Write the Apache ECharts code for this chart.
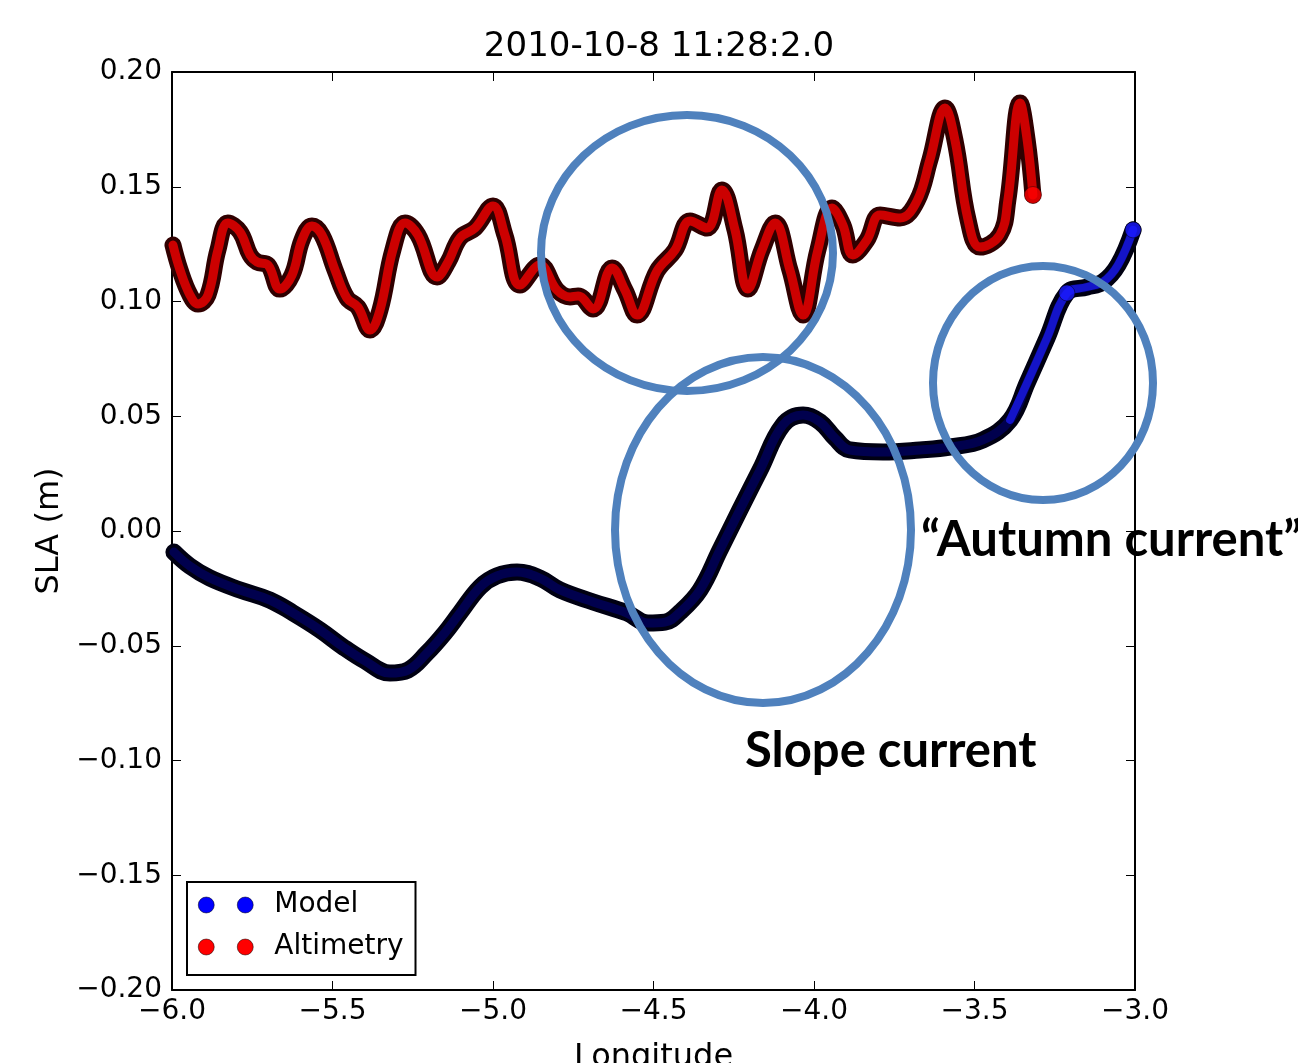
<!DOCTYPE html>
<html>
<head>
<meta charset="utf-8">
<title>SLA 2010-10-8</title>
<script src="https://cdn.jsdelivr.net/npm/echarts@6/dist/echarts.min.js"></script>
<style>
  html, body { margin: 0; padding: 0; background: #fff; }
  #chart { width: 1298px; height: 1063px; }
</style>
</head>
<body>
<div id="chart"></div>
<script>
var titleText = '2010-10-8 11:28:2.0';

// altimetry track (red), longitude / SLA in m
var altLon = [-5.997, -5.975, -5.944, -5.919, -5.888, -5.857, -5.826, -5.788, -5.757, -5.735, -5.701, -5.664, -5.626, -5.595, -5.564, -5.533, -5.492, -5.455, -5.421, -5.383, -5.352, -5.312, -5.274, -5.234, -5.174, -5.140, -5.103, -5.056, -5.000, -4.963, -4.916, -4.854, -4.801, -4.760, -4.735, -4.688, -4.629, -4.589, -4.551, -4.489, -4.433, -4.386, -4.333, -4.287, -4.246, -4.206, -4.162, -4.121, -4.075, -4.034, -3.988, -3.944, -3.910, -3.879, -3.835, -3.794, -3.732, -3.679, -3.639, -3.592, -3.561, -3.520, -3.483, -3.421, -3.396, -3.358, -3.336, -3.318];
var altSla = [0.1246, 0.1137, 0.1028, 0.0989, 0.1028, 0.1224, 0.1342, 0.1303, 0.1203, 0.1172, 0.1159, 0.1054, 0.1115, 0.1268, 0.1329, 0.1290, 0.1137, 0.1015, 0.0976, 0.0876, 0.0963, 0.1224, 0.1342, 0.1290, 0.1107, 0.1172, 0.1277, 0.1320, 0.1416, 0.1290, 0.1072, 0.1159, 0.1050, 0.1020, 0.1024, 0.0967, 0.1146, 0.1050, 0.0941, 0.1133, 0.1224, 0.1351, 0.1320, 0.1486, 0.1312, 0.1054, 0.1224, 0.1342, 0.1137, 0.0941, 0.1224, 0.1407, 0.1333, 0.1203, 0.1268, 0.1377, 0.1364, 0.1438, 0.1617, 0.1843, 0.1704, 0.1355, 0.1237, 0.1290, 0.1442, 0.1865, 0.1704, 0.1464];

// model (blue)
var modelLon = [-5.994, -5.944, -5.882, -5.788, -5.695, -5.623, -5.539, -5.467, -5.399, -5.321, -5.265, -5.206, -5.150, -5.103, -5.040, -4.988, -4.925, -4.854, -4.791, -4.688, -4.583, -4.517, -4.464, -4.417, -4.355, -4.293, -4.231, -4.168, -4.097, -4.034, -3.981, -3.935, -3.888, -3.785, -3.670, -3.576, -3.474, -3.389, -3.336, -3.274, -3.212, -3.150, -3.100, -3.053, -3.006];
var modelSla = [-0.0092, -0.0153, -0.0205, -0.0257, -0.0301, -0.0357, -0.0431, -0.0505, -0.0566, -0.0619, -0.0606, -0.0532, -0.0444, -0.0357, -0.0244, -0.0196, -0.0179, -0.0205, -0.0257, -0.0309, -0.0357, -0.0401, -0.0397, -0.0353, -0.0257, -0.0083, 0.0092, 0.0266, 0.0462, 0.0505, 0.0475, 0.0405, 0.0353, 0.0344, 0.0353, 0.0366, 0.0397, 0.0484, 0.0645, 0.0841, 0.1037, 0.1063, 0.1085, 0.1159, 0.1312];

var altData = altLon.map(function (x, i) { return [x, altSla[i]]; });
var modelData = modelLon.map(function (x, i) { return [x, modelSla[i]]; });
// brighter blue part at the east end of the model track
var modelEast = modelData.slice(37);

function minus(s) { return s.replace('-', '\u2212'); }

var dom = document.getElementById('chart');
var chart = echarts.init(dom, null, { width: 1298, height: 1063 });

var tickFont = { fontFamily: 'DejaVu Sans', fontSize: 28, color: '#000' };
var axisBase = {
    type: 'value',
    axisLine: { show: true, onZero: false, lineStyle: { color: '#000', width: 2 } },
    axisTick: { show: true, inside: true, length: 9, lineStyle: { color: '#000', width: 1 } },
    splitLine: { show: false }
};

var option = {
    animation: false,
    backgroundColor: '#fff',
    title: {
        text: titleText,
        left: 654,
        top: 25,
        textAlign: 'center',
        textStyle: { fontFamily: 'DejaVu Sans', fontSize: 34, fontWeight: 'normal', color: '#000' }
    },
    grid: { left: 172, right: 163, top: 72, bottom: 73, outerBoundsMode: 'none' },
    xAxis: [
        Object.assign({}, axisBase, {
            position: 'bottom', min: -6, max: -3, interval: 0.5,
            name: 'Longitude', nameLocation: 'middle', nameGap: 52,
            nameTextStyle: { fontFamily: 'DejaVu Sans', fontSize: 32, color: '#000' },
            axisLabel: Object.assign({ margin: 8, formatter: function (v) { return minus(v.toFixed(1)); } }, tickFont)
        }),
        Object.assign({}, axisBase, {
            position: 'top', min: -6, max: -3, interval: 0.5,
            axisLabel: { show: false }
        })
    ],
    yAxis: [
        Object.assign({}, axisBase, {
            position: 'left', min: -0.2, max: 0.2, interval: 0.05,
            name: 'SLA (m)', nameLocation: 'middle', nameGap: 100, nameRotate: 90,
            nameTextStyle: { fontFamily: 'DejaVu Sans', fontSize: 32, color: '#000' },
            axisLabel: Object.assign({ margin: 10, formatter: function (v) {
                if (Math.abs(v) < 1e-9) return '0.00';
                return minus(v.toFixed(2));
            } }, tickFont)
        }),
        Object.assign({}, axisBase, {
            position: 'right', min: -0.2, max: 0.2, interval: 0.05,
            axisLabel: { show: false }
        })
    ],
    legend: {
        left: 187,
        top: 882,
        orient: 'vertical',
        padding: [7, 12, 12, 11],
        itemGap: 10,
        borderColor: '#000',
        borderWidth: 2,
        backgroundColor: '#fff',
        icon: 'path://M0,8A8,8,0,1,1,16,8A8,8,0,1,1,0,8Z M39,8A8,8,0,1,1,55,8A8,8,0,1,1,39,8Z',
        itemWidth: 55,
        itemHeight: 16,
        textStyle: { fontFamily: 'DejaVu Sans', fontSize: 28, color: '#000', lineHeight: 32, padding: [0, 0, 0, 16] },
        data: [
            { name: 'Model', itemStyle: { color: '#0000ff', borderColor: '#000', borderWidth: 0.5 } },
            { name: 'Altimetry', itemStyle: { color: '#ff0000', borderColor: '#000', borderWidth: 0.5 } }
        ]
    },
    series: [
        {
            name: 'Model edge', type: 'line', data: modelData, smooth: 0.4,
            symbol: 'none', lineStyle: { color: '#000012', width: 17, cap: 'round', join: 'round' }, z: 2
        },
        {
            name: 'Model', type: 'line', data: modelData, smooth: 0.4,
            symbol: 'none', lineStyle: { color: '#00004e', width: 9, cap: 'round', join: 'round' }, z: 3
        },
        {
            name: 'Model east', type: 'line', data: modelEast, smooth: 0.4,
            symbol: 'none', lineStyle: { color: '#1414c8', width: 8, cap: 'round', join: 'round' }, z: 3
        },
        {
            name: 'Altimetry edge', type: 'line', data: altData, smooth: 0.4,
            symbol: 'none', lineStyle: { color: '#300000', width: 17, cap: 'round', join: 'round' }, z: 2
        },
        {
            name: 'Altimetry', type: 'line', data: altData, smooth: 0.4,
            symbol: 'none', lineStyle: { color: '#cc0000', width: 9, cap: 'round', join: 'round' }, z: 3
        },
        {
            name: 'Model end', type: 'scatter', symbolSize: 16, z: 4,
            data: [modelData[40], modelData[modelData.length - 1]],
            itemStyle: { color: '#1a1aff', borderColor: '#000', borderWidth: 0.6 }
        },
        {
            name: 'Altimetry end', type: 'scatter', symbolSize: 17, z: 4,
            data: [altData[altData.length - 1]],
            itemStyle: { color: '#ff0000', borderColor: '#200', borderWidth: 0.6 }
        }
    ],
    graphic: [
        { type: 'ellipse', z: 100, shape: { cx: 687, cy: 253, rx: 146, ry: 138 }, style: { fill: 'none', stroke: '#4f81bd', lineWidth: 8 } },
        { type: 'ellipse', z: 100, shape: { cx: 763, cy: 530, rx: 148, ry: 173 }, style: { fill: 'none', stroke: '#4f81bd', lineWidth: 8 } },
        { type: 'ellipse', z: 100, shape: { cx: 1043, cy: 383, rx: 110, ry: 117 }, style: { fill: 'none', stroke: '#4f81bd', lineWidth: 8 } },
        { type: 'text', z: 101, x: 745, y: 751, style: { text: 'Slope current', fontFamily: 'Lato', fontWeight: 'bold', fontSize: 49, fill: '#000', align: 'left', verticalAlign: 'middle' } },
        { type: 'text', z: 101, x: 921, y: 540, style: { text: '\u201cAutumn current\u201d', fontFamily: 'Lato', fontWeight: 'bold', fontSize: 49, fill: '#000', align: 'left', verticalAlign: 'middle' } }
    ]
};

chart.setOption(option);
</script>
</body>
</html>
